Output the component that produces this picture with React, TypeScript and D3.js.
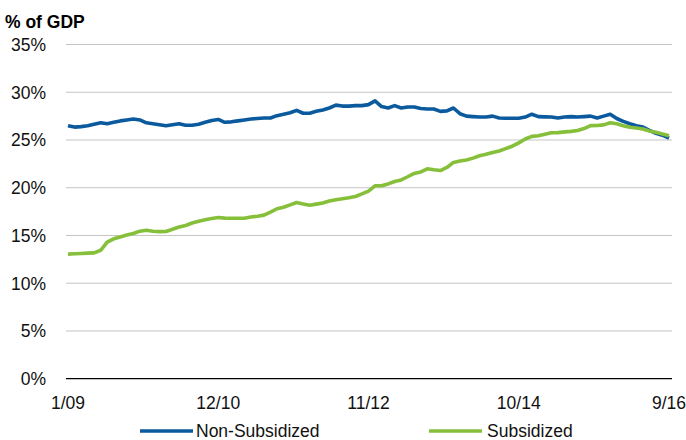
import React from 'react';
import * as d3 from 'd3';

// Monthly, 1/09 through 9/16
const nonSubsidized: number[] = [
  26.5, 26.35, 26.4, 26.5, 26.65, 26.8, 26.7, 26.85, 27.0, 27.1,
  27.2, 27.1, 26.8, 26.7, 26.6, 26.5, 26.6, 26.7, 26.55, 26.55,
  26.65, 26.85, 27.05, 27.15, 26.85, 26.9, 27.0, 27.1, 27.2, 27.25,
  27.3, 27.3, 27.55, 27.7, 27.85, 28.1, 27.8, 27.8, 28.0, 28.15,
  28.35, 28.65, 28.55, 28.55, 28.6, 28.6, 28.7, 29.1, 28.5, 28.35,
  28.6, 28.35, 28.45, 28.45, 28.3, 28.25, 28.25, 28.0, 28.05, 28.35,
  27.75, 27.5, 27.45, 27.4, 27.4, 27.5, 27.3, 27.28, 27.27, 27.28,
  27.4, 27.7, 27.45, 27.42, 27.4, 27.3, 27.4, 27.45, 27.4, 27.45,
  27.5, 27.3, 27.5, 27.7, 27.25, 26.95, 26.7, 26.5, 26.35, 26.0,
  25.7, 25.5, 25.2,
];

const subsidized: number[] = [
  13.05, 13.08, 13.12, 13.15, 13.18, 13.45, 14.3, 14.65, 14.85, 15.05,
  15.2, 15.45, 15.55, 15.45, 15.4, 15.42, 15.65, 15.88, 16.05, 16.3,
  16.5, 16.65, 16.78, 16.88, 16.82, 16.8, 16.8, 16.8, 16.93, 17.02,
  17.13, 17.45, 17.8, 17.95, 18.2, 18.45, 18.3, 18.17, 18.28, 18.4,
  18.6, 18.75, 18.85, 18.95, 19.08, 19.35, 19.65, 20.2, 20.2, 20.4,
  20.65, 20.82, 21.15, 21.5, 21.65, 21.98, 21.88, 21.8, 22.12, 22.65,
  22.8, 22.9, 23.1, 23.35, 23.5, 23.7, 23.85, 24.1, 24.35, 24.7,
  25.1, 25.38, 25.45, 25.6, 25.75, 25.77, 25.85, 25.9, 26.0, 26.2,
  26.5, 26.52, 26.58, 26.8, 26.7, 26.5, 26.33, 26.25, 26.15, 25.95,
  25.8, 25.63, 25.44,
];

const xTickIndex = [0, 23, 46, 69, 92];
const xTickLabels = ['1/09', '12/10', '11/12', '10/14', '9/16'];
const yTicks = [0, 5, 10, 15, 20, 25, 30, 35];

const BLUE = '#0b5a9e';
const GREEN = '#86bf3a';
const FONT = '"Liberation Sans", Arial, sans-serif';

export default function App() {
  const width = 686;
  const height = 440;

  const idx = d3.range(nonSubsidized.length);
  const x = d3.scalePoint<number>().domain(idx).range([68, 669]);
  const y = d3.scaleLinear().domain([0, 35]).range([378.7, 44.5]);

  const line = d3.line<number>()
    .x((_, i) => x(i) as number)
    .y(d => y(d));

  return (
    <svg
      width={width}
      height={height}
      style={{ position: 'absolute', left: 0, top: 0, background: '#fff' }}
      fontFamily={FONT}
    >
      <text x={5} y={27.5} fontSize={17.5} fontWeight="bold" fill="#000">% of GDP</text>

      {yTicks.map(t => (
        <g key={t}>
          <line
            x1={66}
            x2={672}
            y1={y(t)}
            y2={y(t)}
            stroke={t === 0 ? '#000' : '#c4c4c4'}
            strokeWidth={t === 0 ? 1.3 : 1}
          />
          <text
            x={46}
            y={y(t)}
            dy="0.36em"
            textAnchor="end"
            fontSize={17.5}
            fill="#111"
          >
            {t}%
          </text>
        </g>
      ))}

      {xTickIndex.map((ti, k) => (
        <text
          key={ti}
          x={x(ti) as number}
          y={409}
          textAnchor="middle"
          fontSize={17.5}
          fill="#111"
        >
          {xTickLabels[k]}
        </text>
      ))}

      <path d={line(nonSubsidized) || ''} fill="none" stroke={BLUE} strokeWidth={3.6} strokeLinejoin="round" />
      <path d={line(subsidized) || ''} fill="none" stroke={GREEN} strokeWidth={3.6} strokeLinejoin="round" />

      {/* legend */}
      <line x1={140} x2={193} y1={431} y2={431} stroke={BLUE} strokeWidth={3.6} />
      <text x={196} y={436.5} fontSize={17.5} fill="#111">Non-Subsidized</text>
      <line x1={429} x2={482} y1={431} y2={431} stroke={GREEN} strokeWidth={3.6} />
      <text x={487} y={436.5} fontSize={17.5} fill="#111">Subsidized</text>
    </svg>
  );
}
